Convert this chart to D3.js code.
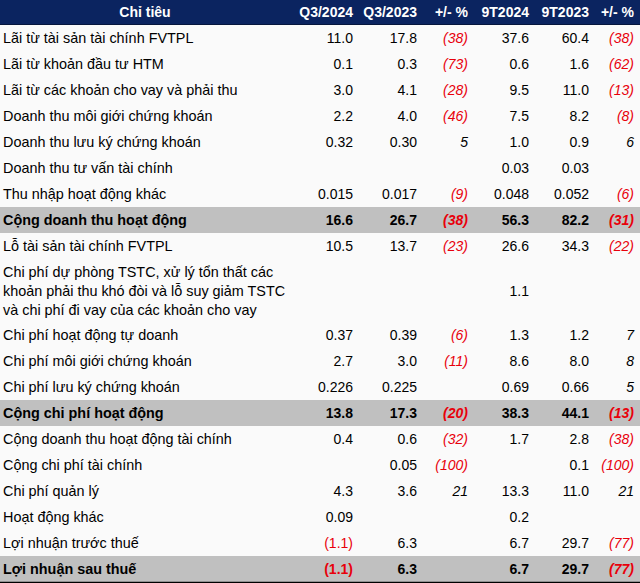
<!DOCTYPE html>
<html><head><meta charset="utf-8">
<script src="https://cdn.jsdelivr.net/npm/d3@7"></script>
<style>
html,body{margin:0;padding:0;background:#fafafa;}
svg{display:block;font-family:"Liberation Sans",Arial,sans-serif;}
</style></head>
<body><div id="chart"></div>
<script>
const headers = ["Chỉ tiêu","Q3/2024","Q3/2023","+/- %","9T2024","9T2023","+/- %"];
const labels = [
 ["Lãi từ tài sản tài chính FVTPL"],
 ["Lãi từ khoản đầu tư HTM"],
 ["Lãi từ các khoản cho vay và phải thu"],
 ["Doanh thu môi giới chứng khoán"],
 ["Doanh thu lưu ký chứng khoán"],
 ["Doanh thu tư vấn tài chính"],
 ["Thu nhập hoạt động khác"],
 ["Cộng doanh thu hoạt động"],
 ["Lỗ tài sản tài chính FVTPL"],
 ["Chi phí dự phòng TSTC, xử lý tổn thất các","khoản phải thu khó đòi và lỗ suy giảm TSTC","và chi phí đi vay của các khoản cho vay"],
 ["Chi phí hoạt động tự doanh"],
 ["Chi phí môi giới chứng khoán"],
 ["Chi phí lưu ký chứng khoán"],
 ["Cộng chi phí hoạt động"],
 ["Cộng doanh thu hoạt động tài chính"],
 ["Cộng chi phí tài chính"],
 ["Chi phí quản lý"],
 ["Hoạt động khác"],
 ["Lợi nhuận trước thuế"],
 ["Lợi nhuận sau thuế"]
];
const boldRows = [7, 13, 19];
const q3_2024 = ["11.0","0.1","3.0","2.2","0.32","","0.015","16.6","10.5","","0.37","2.7","0.226","13.8","0.4","","4.3","0.09","(1.1)","(1.1)"];
const q3_2023 = ["17.8","0.3","4.1","4.0","0.30","","0.017","26.7","13.7","","0.39","3.0","0.225","17.3","0.6","0.05","3.6","","6.3","6.3"];
const chgQ    = ["(38)","(73)","(28)","(46)","5","","(9)","(38)","(23)","","(6)","(11)","","(20)","(32)","(100)","21","","",""];
const t9_2024 = ["37.6","0.6","9.5","7.5","1.0","0.03","0.048","56.3","26.6","1.1","1.3","8.6","0.69","38.3","1.7","","13.3","0.2","6.7","6.7"];
const t9_2023 = ["60.4","1.6","11.0","8.2","0.9","0.03","0.052","82.2","34.3","","1.2","8.0","0.66","44.1","2.8","0.1","11.0","","29.7","29.7"];
const chg9    = ["(38)","(62)","(13)","(8)","6","","(6)","(31)","(22)","","7","8","5","(13)","(38)","(100)","21","","(77)","(77)"];

const W = 640, H = 583;
const headerH = 25, rowH = 26, lineH = 19;
const cols = [q3_2024, q3_2023, chgQ, t9_2024, t9_2023, chg9];
const pctCols = [2, 5];
const colRight = [353, 417, 468, 529, 589, 634];

const svg = d3.select("#chart").append("svg").attr("width", W).attr("height", H);
svg.append("rect").attr("width", W).attr("height", H).attr("fill", "#fafafa");

// row layout
const heights = labels.map(l => l.length > 1 ? (l.length - 1) * lineH + rowH - 1 : rowH);
const tops = [];
let acc = headerH;
heights.forEach(h => { tops.push(acc); acc += h; });
const y = d3.scaleOrdinal().domain(d3.range(labels.length)).range(tops);

// header
svg.append("rect").attr("x",0).attr("y",0).attr("width",W).attr("height",headerH-1).attr("fill","#0b2460");
svg.append("line").attr("x1",0).attr("x2",W).attr("y1",headerH-0.5).attr("y2",headerH-0.5).attr("stroke","#06163d");
svg.append("text").attr("x",145).attr("y",17).attr("text-anchor","middle")
  .attr("fill","#fff").attr("font-weight","bold").attr("font-size",14).text(headers[0]);
svg.selectAll("text.h").data(headers.slice(1)).join("text").attr("class","h")
  .attr("x",(d,i)=>colRight[i]).attr("y",17).attr("text-anchor","end")
  .attr("fill","#fff").attr("font-weight","bold").attr("font-size",14).text(d=>d);

// bands
svg.selectAll("rect.band").data(boldRows).join("rect").attr("class","band")
  .attr("x",0).attr("width",W).attr("y",i=>y(i)).attr("height",i=>heights[i]).attr("fill","#c0c0c0");

// labels
const rows = svg.selectAll("g.row").data(labels).join("g").attr("class","row")
  .attr("transform",(d,i)=>`translate(0,${y(i)})`);
rows.each(function(lines, i){
  const g = d3.select(this);
  const bold = boldRows.includes(i);
  const h = heights[i];
  const mid = h/2;
  lines.forEach((t, k) => {
    g.append("text").attr("x",3)
      .attr("y", mid + (k - (lines.length-1)/2)*lineH + 5)
      .attr("font-size",14.4).attr("font-weight", bold ? "bold" : "normal")
      .attr("fill","#000").text(t);
  });
  cols.forEach((col, c) => {
    const v = col[i];
    if (!v) return;
    const neg = v.startsWith("(");
    const pct = pctCols.includes(c);
    g.append("text").attr("x", colRight[c]).attr("y", mid + 5)
      .attr("text-anchor","end").attr("font-size",14)
      .attr("font-weight", bold ? "bold" : "normal")
      .attr("font-style", pct ? "italic" : "normal")
      .attr("fill", neg ? "#e8000b" : "#000").text(v);
  });
});

// bottom border
svg.append("line").attr("x1",0).attr("x2",W).attr("y1",acc+0.5).attr("y2",acc+0.5).attr("stroke","#000").attr("stroke-width",1.5);
</script></body></html>
